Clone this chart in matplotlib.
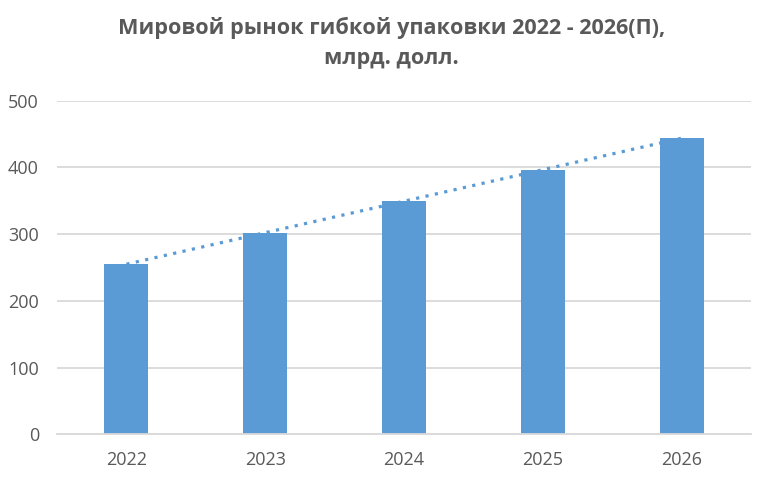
import numpy as np
import matplotlib
matplotlib.use("Agg")
import matplotlib.pyplot as plt

plt.rcParams['font.family'] = ['Open Sans', 'DejaVu Sans']

years = ['2022', '2023', '2024', '2025', '2026']
market = [255, 302, 350, 396, 444]
yticks = [0, 100, 200, 300, 400, 500]
title = 'Мировой рынок гибкой упаковки 2022 - 2026(П),\nмлрд. долл.'

bar_color = '#5B9BD5'
grid_color = '#D9D9D9'
text_color = '#595959'

fig = plt.figure(figsize=(7.58, 4.78), dpi=100)
ax = fig.add_axes([0.0752, 0.0914, 0.9156, 0.6979])

x = np.arange(len(years))
ax.bar(x, market, width=0.317, color=bar_color, zorder=2)

# linear trendline, like Excel's
k, b = np.polyfit(x, market, 1)
ax.plot(x, k * x + b, color=bar_color, linestyle=(0, (1, 2)), linewidth=2.3,
        dash_capstyle='butt', zorder=3)

ax.set_xlim(-0.5, len(years) - 0.5)
ax.set_ylim(0, 500)
ax.set_yticks(yticks)
ax.set_xticks(x)
ax.set_xticklabels(years)
ax.yaxis.grid(True, color=grid_color, linewidth=1.3, zorder=0)
ax.set_axisbelow(True)
for s in ['top', 'right', 'left']:
    ax.spines[s].set_visible(False)
ax.spines['bottom'].set_color(grid_color)
ax.spines['bottom'].set_linewidth(1.3)
ax.tick_params(axis='both', length=0, colors=text_color, labelsize=13)
ax.tick_params(axis='y', pad=13)
ax.tick_params(axis='x', pad=12)

fig.text(0.516, 0.965, title, ha='center', va='top', fontsize=15.6,
         fontweight='bold', color=text_color, linespacing=1.55)

fig.savefig('out.png', dpi=100)
